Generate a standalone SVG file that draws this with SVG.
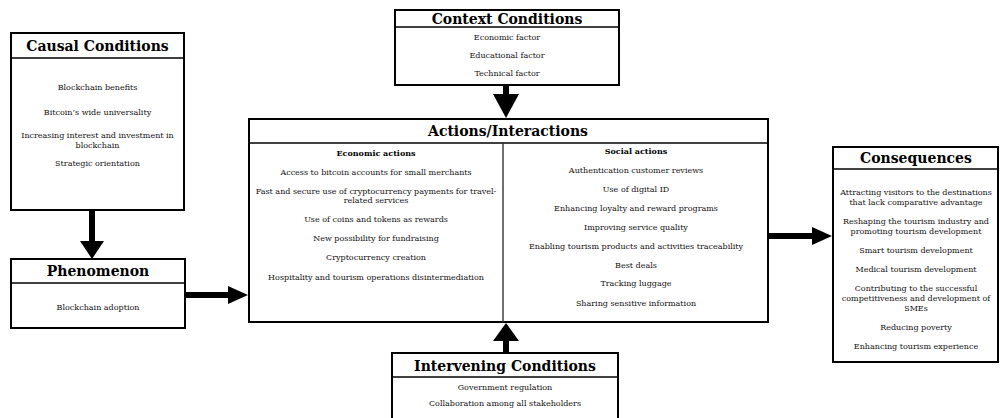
<svg xmlns="http://www.w3.org/2000/svg" width="1000" height="418" viewBox="0 0 1000 418">
<style>
.box{fill:#fff;stroke:#000;stroke-width:2}
.div{stroke:#000;stroke-width:1.6;fill:none}
.vdiv{stroke:#333;stroke-width:1.4;fill:none}
.title{font-family:"DejaVu Serif","Liberation Serif",serif;font-weight:bold;font-size:14px;fill:#000;text-anchor:middle;dominant-baseline:central}
.item{font-family:"DejaVu Serif","Liberation Serif",serif;font-size:8px;fill:#111;text-anchor:middle;dominant-baseline:central}
.sub{font-family:"DejaVu Serif","Liberation Serif",serif;font-weight:bold;font-size:8px;fill:#000;text-anchor:middle;dominant-baseline:central}
.shaft{stroke:#000;stroke-width:6;fill:none}
.head{fill:#000}
</style>
<rect width="1000" height="418" fill="#fff"/>

<g id="causal">
<rect class="box" x="11" y="33" width="173" height="177"/>
<line class="div" x1="11" y1="58" x2="184" y2="58"/>
<text class="title" x="97.5" y="46">Causal Conditions</text>
<text class="item" x="97.5" y="87">Blockchain benefits</text>
<text class="item" x="97.5" y="112">Bitcoin’s wide universality</text>
<text class="item" x="97.5" y="135">Increasing interest and investment in</text>
<text class="item" x="97.5" y="145">blockchain</text>
<text class="item" x="97.5" y="163">Strategic orientation</text>
</g>

<g id="phenomenon">
<rect class="box" x="11" y="259" width="174" height="69"/>
<line class="div" x1="11" y1="283" x2="185" y2="283"/>
<text class="title" x="98" y="271">Phenomenon</text>
<text class="item" x="98" y="307">Blockchain adoption</text>
</g>

<g id="context">
<rect class="box" x="395" y="10" width="224" height="75"/>
<line class="div" x1="395" y1="27" x2="619" y2="27"/>
<text class="title" x="507" y="18.5">Context Conditions</text>
<text class="item" x="507" y="37">Economic factor</text>
<text class="item" x="507" y="55">Educational factor</text>
<text class="item" x="507" y="73">Technical factor</text>
</g>

<g id="actions">
<rect class="box" x="249" y="119" width="519" height="203"/>
<line class="div" x1="249" y1="143" x2="768" y2="143"/>
<line class="vdiv" x1="503" y1="143" x2="503" y2="322"/>
<text class="title" x="508" y="131">Actions/Interactions</text>
<text class="sub" x="376" y="153">Economic actions</text>
<text class="item" x="376" y="172">Access to bitcoin accounts for small merchants</text>
<text class="item" x="376" y="191">Fast and secure use of cryptocurrency payments for travel-</text>
<text class="item" x="376" y="200">related services</text>
<text class="item" x="376" y="219">Use of coins and tokens as rewards</text>
<text class="item" x="376" y="238">New possibility for fundraising</text>
<text class="item" x="376" y="257">Cryptocurrency creation</text>
<text class="item" x="376" y="277">Hospitality and tourism operations disintermediation</text>
<text class="sub" x="636" y="151">Social actions</text>
<text class="item" x="636" y="170">Authentication customer reviews</text>
<text class="item" x="636" y="189">Use of digital ID</text>
<text class="item" x="636" y="208">Enhancing loyalty and reward programs</text>
<text class="item" x="636" y="227">Improving service quality</text>
<text class="item" x="636" y="246">Enabling tourism products and activities traceability</text>
<text class="item" x="636" y="265">Best deals</text>
<text class="item" x="636" y="283">Tracking luggage</text>
<text class="item" x="636" y="303">Sharing sensitive information</text>
</g>

<g id="consequences">
<rect class="box" x="833" y="147" width="165" height="215"/>
<line class="div" x1="833" y1="169" x2="998" y2="169"/>
<text class="title" x="916" y="158">Consequences</text>
<text class="item" x="916" y="192">Attracting visitors to the destinations</text>
<text class="item" x="916" y="202">that lack comparative advantage</text>
<text class="item" x="916" y="221">Reshaping the tourism industry and</text>
<text class="item" x="916" y="231">promoting tourism development</text>
<text class="item" x="916" y="250">Smart tourism development</text>
<text class="item" x="916" y="269">Medical tourism development</text>
<text class="item" x="916" y="288">Contributing to the successful</text>
<text class="item" x="916" y="298">competitiveness and development of</text>
<text class="item" x="916" y="308">SMEs</text>
<text class="item" x="916" y="327">Reducing poverty</text>
<text class="item" x="916" y="346">Enhancing tourism experience</text>
</g>

<g id="intervening">
<rect class="box" x="392" y="353" width="226" height="70"/>
<line class="div" x1="392" y1="377" x2="618" y2="377"/>
<text class="title" x="505" y="366">Intervening Conditions</text>
<text class="item" x="505" y="387">Government regulation</text>
<text class="item" x="505" y="403">Collaboration among all stakeholders</text>
</g>

<g id="connectors">
<line class="shaft" x1="92" y1="210" x2="92" y2="242"/>
<polygon class="head" points="80,241 104,241 92,259"/>
<line class="shaft" x1="185" y1="295" x2="230" y2="295"/>
<polygon class="head" points="228,286 228,304 248,295"/>
<line class="shaft" x1="506" y1="85" x2="506" y2="96"/>
<polygon class="head" points="493,94 519,94 506,118"/>
<line class="shaft" x1="506" y1="353" x2="506" y2="338"/>
<polygon class="head" points="493,341 519,341 506,323"/>
<line class="shaft" x1="768" y1="236" x2="814" y2="236"/>
<polygon class="head" points="812,227 812,245 832,236"/>
</g>
</svg>
